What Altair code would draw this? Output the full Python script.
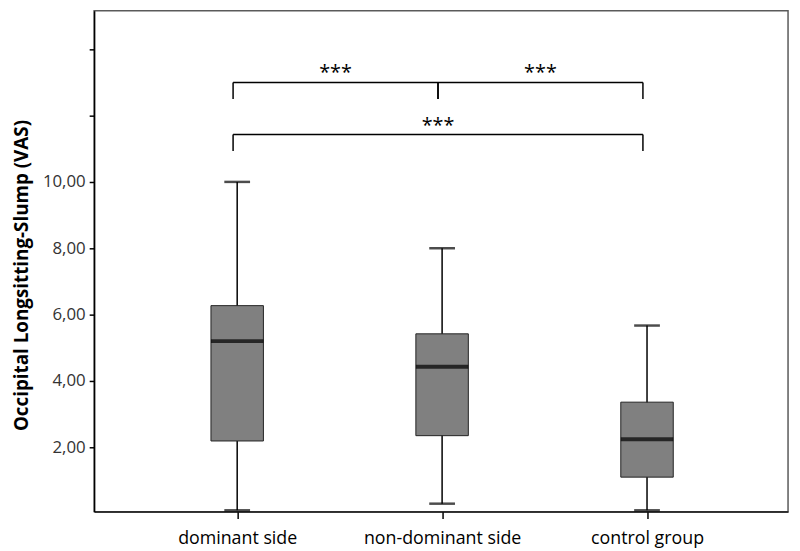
import altair as alt
import pandas as pd

# ---- data ----
groups = ["dominant side", "non-dominant side", "control group"]
whisker_low = [0.10, 0.30, 0.10]
q1 = [2.19, 2.35, 1.10]
median = [5.20, 4.43, 2.24]
q3 = [6.27, 5.42, 3.36]
whisker_high = [10.00, 8.00, 5.67]

y_ticks = [2, 4, 6, 8, 10, 12, 14]

# significance brackets: group a index, group b index, bracket level, label
comp_a = [0, 1, 0]
comp_b = [1, 2, 2]
comp_level = [13.0, 13.0, 11.43]
comp_label = ["***", "***", "***"]

FONT = "Open Sans"
SHIFT = -0.02   # brackets sit slightly left of box centres
LEG = 0.5

boxes = pd.DataFrame({
    "pos": list(range(len(groups))),
    "group": groups,
    "low": whisker_low, "q1": q1, "med": median, "q3": q3, "high": whisker_high,
})

bars = pd.DataFrame({
    "a": [a + SHIFT for a in comp_a],
    "b": [b + SHIFT for b in comp_b],
    "level": comp_level,
    "label": comp_label,
})
bars["mid"] = (bars["a"] + bars["b"]) / 2
legs = pd.concat([
    pd.DataFrame({"x": bars["a"], "y": bars["level"], "y2": bars["level"] - LEG}),
    pd.DataFrame({"x": bars["b"], "y": bars["level"], "y2": bars["level"] - LEG}),
])

label_arr = "[" + ",".join("'" + g + "'" for g in groups) + "]"

xscale = alt.Scale(domain=[-0.674, 2.664], nice=False, zero=False)
yscale = alt.Scale(domain=[0.06, 15.16], nice=False, zero=False)

X = alt.X("pos:Q", scale=xscale, title=None,
          axis=alt.Axis(values=[0, 1, 2], labelExpr=label_arr + "[datum.value]",
                        grid=False, domainColor="black", domainWidth=1.5,
                        tickColor="black", tickWidth=1.5, tickSize=7,
                        labelFont=FONT, labelFontSize=18, labelColor="black",
                        labelPadding=11))
Y = alt.Y("low:Q", scale=yscale,
          title="Occipital Longsitting-Slump (VAS)",
          axis=alt.Axis(values=y_ticks, grid=False,
                        labelExpr="datum.value <= 10 ? replace(format(datum.value, '.2f'), '.', ',') : ''",
                        domainColor="black", domainWidth=1.5,
                        tickColor="black", tickWidth=1.5, tickSize=5,
                        labelFont=FONT, labelFontSize=17, labelColor="#333",
                        labelPadding=4,
                        titleFont=FONT, titleFontSize=19, titleFontWeight="bold",
                        titleColor="black", titleX=-73, titleY=267,
                        titleAlign="center", titleBaseline="middle", titleAngle=270))

base = alt.Chart(boxes)

whisk = base.mark_rule(color="black", strokeWidth=1.5).encode(
    x=X, y=Y, y2="high:Q")
box = base.mark_bar(orient="vertical", size=53, fill="#808080", stroke="#222",
                    strokeWidth=1).encode(
    x=alt.X("pos:Q", scale=xscale), y=alt.Y("q1:Q", scale=yscale), y2="q3:Q")
med = base.mark_tick(orient="horizontal", size=53, thickness=4, color="black").encode(
    x=alt.X("pos:Q", scale=xscale), y=alt.Y("med:Q", scale=yscale))
cap_lo = base.mark_tick(orient="horizontal", size=26, thickness=2.5, color="black").encode(
    x=alt.X("pos:Q", scale=xscale), y=alt.Y("low:Q", scale=yscale))
cap_hi = base.mark_tick(orient="horizontal", size=26, thickness=2.5, color="black").encode(
    x=alt.X("pos:Q", scale=xscale), y=alt.Y("high:Q", scale=yscale))

hbar = alt.Chart(bars).mark_rule(color="black", strokeWidth=1.5).encode(
    x=alt.X("a:Q", scale=xscale), x2="b:Q", y=alt.Y("level:Q", scale=yscale))
vleg = alt.Chart(legs).mark_rule(color="black", strokeWidth=1.5).encode(
    x=alt.X("x:Q", scale=xscale), y=alt.Y("y:Q", scale=yscale), y2="y2:Q")
stars = alt.Chart(bars).mark_text(font=FONT, fontSize=20, color="black",
                                  baseline="alphabetic", dy=-3).encode(
    x=alt.X("mid:Q", scale=xscale), y=alt.Y("level:Q", scale=yscale), text="label:N")

chart = alt.layer(whisk, box, med, cap_lo, cap_hi, hbar, vleg, stars).properties(
    width=701, height=506,
    background="white",
    autosize=alt.AutoSizeParams(type="none"),
    padding={"left": 87, "top": 0, "right": 4, "bottom": 37},
).configure_view(stroke="#5a5a5a", strokeWidth=1.5)

chart.save("out.html", embed_options={"renderer": "svg", "actions": False})
